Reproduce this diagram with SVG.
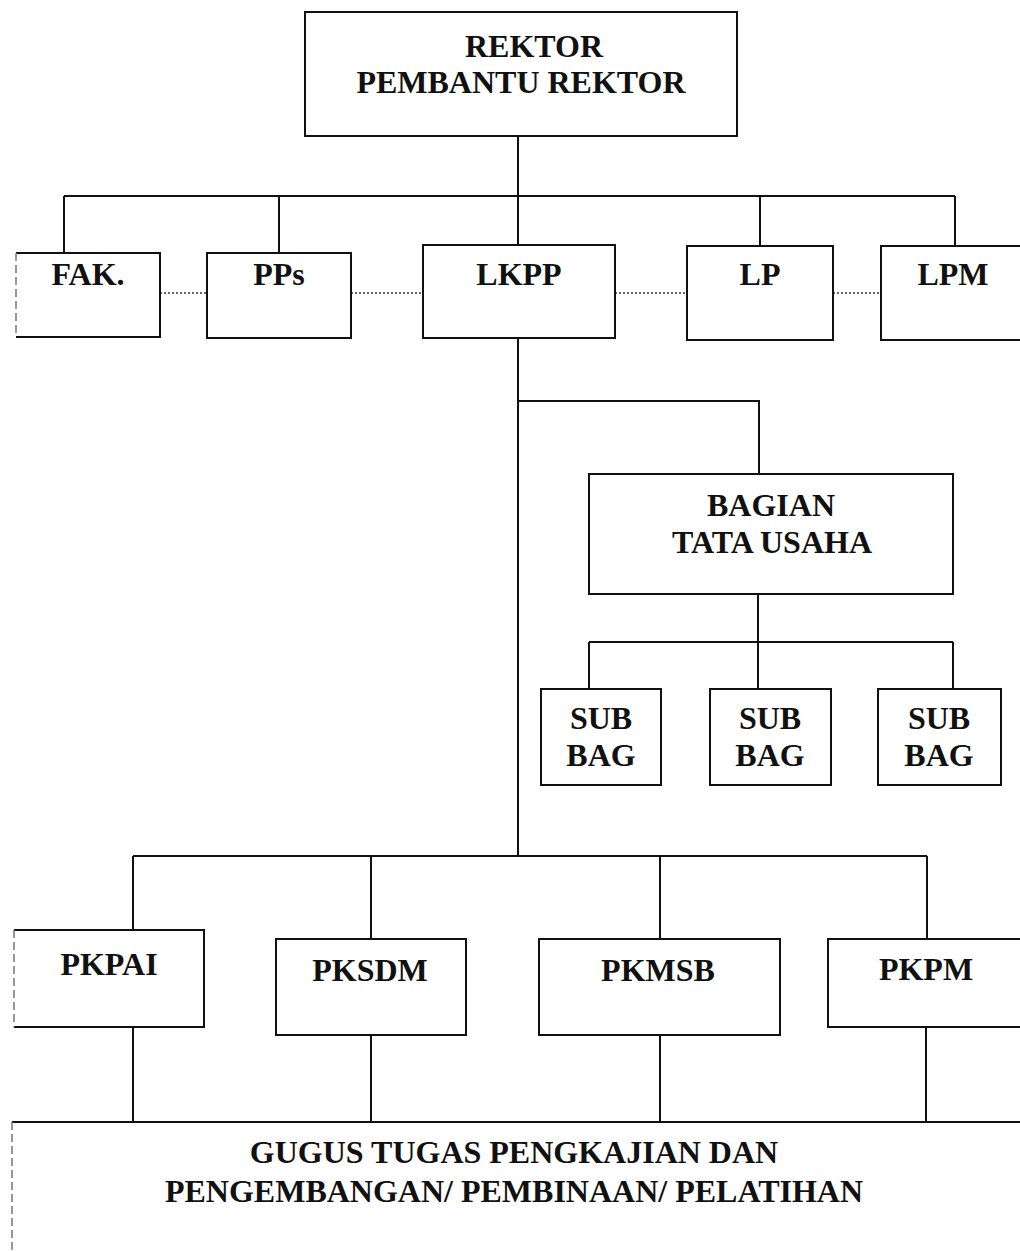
<svg xmlns="http://www.w3.org/2000/svg" width="1020" height="1251" viewBox="0 0 1020 1251">
<style>
.box{fill:#fff;stroke:#111;stroke-width:2}
.faint{fill:none;stroke:#777;stroke-width:1.5;stroke-dasharray:8 4}
.ln{fill:none;stroke:#111;stroke-width:2}
.dot{fill:none;stroke:#333;stroke-width:1.5;stroke-dasharray:2 2}
.t{font-family:"Liberation Serif","Times New Roman",serif;font-weight:bold;font-size:32px;fill:#111;text-anchor:middle}
.tb{font-family:"Liberation Serif","Times New Roman",serif;font-weight:bold;font-size:32px;fill:#111;text-anchor:middle}
</style>
<rect width="1020" height="1251" fill="#fff"/>
<g id="connectors">
<path class="ln" d="M518 136V245M64 196H955M64 196V252M279 196V253M760 196V246M955 196V246"/>
<path class="dot" d="M160 293H207M351 293H423M615 293H687M833 293H881"/>
<path class="ln" d="M518 338V856M518 401H759V474"/>
<path class="ln" d="M758 594V689M589 642H953M589 642V689M953 642V689"/>
<path class="ln" d="M133 856H927M133 856V930M371 856V939M660 856V939M927 856V939"/>
<path class="ln" d="M133 1027V1122M371 1035V1122M660 1035V1122M926 1027V1122"/>
</g>
<g id="rektor">
<rect class="box" x="305" y="12" width="432" height="124"/>
<text class="t" x="534" y="57">REKTOR</text>
<text class="t" x="521" y="93">PEMBANTU REKTOR</text>
</g>
<g id="fak">
<path class="ln" d="M16 253H160V337H16"/>
<path class="faint" d="M16 253V337"/>
<text class="t" x="88" y="285">FAK.</text>
</g>
<g id="pps">
<rect class="box" x="207" y="253" width="144" height="85"/>
<text class="t" x="279" y="285">PPs</text>
</g>
<g id="lkpp">
<rect class="box" x="423" y="245" width="192" height="93"/>
<text class="t" x="519" y="285">LKPP</text>
</g>
<g id="lp">
<rect class="box" x="687" y="246" width="146" height="94"/>
<text class="t" x="760" y="285">LP</text>
</g>
<g id="lpm">
<rect class="box" x="881" y="246" width="150" height="94"/>
<text class="t" x="953" y="285">LPM</text>
</g>
<g id="bagian">
<rect class="box" x="589" y="474" width="364" height="120"/>
<text class="t" x="771" y="516">BAGIAN</text>
<text class="t" x="772" y="553">TATA USAHA</text>
</g>
<g id="subbag1">
<rect class="box" x="541" y="689" width="120" height="96"/>
<text class="t" x="601" y="729">SUB</text>
<text class="t" x="601" y="766">BAG</text>
</g>
<g id="subbag2">
<rect class="box" x="710" y="689" width="121" height="96"/>
<text class="t" x="770" y="729">SUB</text>
<text class="t" x="770" y="766">BAG</text>
</g>
<g id="subbag3">
<rect class="box" x="878" y="689" width="123" height="96"/>
<text class="t" x="939" y="729">SUB</text>
<text class="t" x="939" y="766">BAG</text>
</g>
<g id="pkpai">
<path class="ln" d="M14 930H204V1027H14"/>
<path class="faint" d="M14 930V1027"/>
<text class="t" x="109" y="975">PKPAI</text>
</g>
<g id="pksdm">
<rect class="box" x="276" y="939" width="190" height="96"/>
<text class="t" x="370" y="981">PKSDM</text>
</g>
<g id="pkmsb">
<rect class="box" x="539" y="939" width="241" height="96"/>
<text class="t" x="658" y="981">PKMSB</text>
</g>
<g id="pkpm">
<rect class="box" x="828" y="939" width="200" height="88"/>
<text class="t" x="926" y="980">PKPM</text>
</g>
<g id="gugus">
<path class="ln" d="M12 1122H1022"/>
<path class="faint" d="M12 1122V1260"/>
<text class="tb" x="514" y="1163">GUGUS TUGAS PENGKAJIAN DAN</text>
<text class="tb" x="514" y="1202">PENGEMBANGAN/ PEMBINAAN/ PELATIHAN</text>
</g>
</svg>
